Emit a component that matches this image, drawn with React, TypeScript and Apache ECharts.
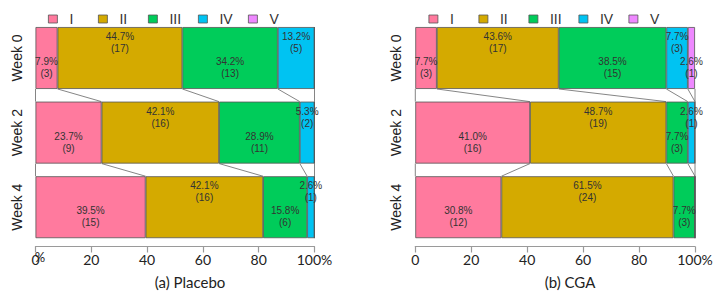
import React, { useEffect, useRef } from "react";
import * as echarts from "echarts";

const weeks = ["Week 0", "Week 2", "Week 4"];
const grades = ["I", "II", "III", "IV", "V"];
const gradeColors = ["#FF7A9E", "#D4AA00", "#00CC5A", "#00C3F2", "#EE88FF"];

// counts per grade (I..V) for each week
const placeboCounts = [
  [3, 17, 13, 5, 0],
  [9, 16, 11, 2, 0],
  [15, 16, 6, 1, 0],
];
const cgaCounts = [
  [3, 17, 15, 3, 1],
  [16, 19, 3, 1, 0],
  [12, 24, 3, 0, 0],
];

const panels = [
  { counts: placeboCounts, caption: "(a) Placebo", left: 35.5, width: 279, legendLeft: 43, captionX: 190 },
  { counts: cgaCounts, caption: "(b) CGA", left: 415.3, width: 279.7, legendLeft: 423.5, captionX: 570 },
];

const GRID_TOP = 20.7;
const GRID_H = 223.8;
const BAR_FRAC = 0.83;

function pctRows(counts: number[][]) {
  return counts.map((row) => {
    const tot = row.reduce((a, b) => a + b, 0);
    return row.map((c) => (c / tot) * 100);
  });
}

export default function App() {
  const ref = useRef<HTMLDivElement>(null);
  useEffect(() => {
    if (!ref.current) return;
    const chart = echarts.init(ref.current, undefined, { renderer: "svg" });
    const grid: any[] = [];
    const xAxis: any[] = [];
    const yAxis: any[] = [];
    const series: any[] = [];
    const legend: any[] = [];
    const graphic: any[] = [];

    panels.forEach((p, pi) => {
      const pct = pctRows(p.counts);
      grid.push({ left: p.left, width: p.width, top: GRID_TOP, height: GRID_H });
      xAxis.push({
        type: "value",
        gridIndex: pi,
        min: 0,
        max: 100,
        interval: 20,
        offset: 2,
        axisLine: { show: true, lineStyle: { color: "#9a9a9a", width: 1.2 } },
        axisTick: { show: true, length: 6, lineStyle: { color: "#9a9a9a", width: 1.2 } },
        splitLine: { show: false },
        axisLabel: {
          color: "#222",
          fontFamily: "Lato, 'DejaVu Sans', sans-serif",
          fontSize: 14,
          margin: 6,
          formatter: (v: number) => (v === 100 ? "100%" : String(v)),
        },
      });
      yAxis.push({
        type: "category",
        gridIndex: pi,
        data: weeks,
        inverse: true,
        axisLine: { show: false },
        axisTick: { show: false },
        axisLabel: {
          rotate: 90,
          margin: 12,
          color: "#222",
          fontFamily: "'Liberation Sans', Arial, sans-serif",
          fontSize: 14,
        },
      });
      grades.forEach((g, gi) => {
        series.push({
          type: "bar",
          name: g,
          xAxisIndex: pi,
          yAxisIndex: pi,
          stack: "s" + pi,
          barWidth: BAR_FRAC * 100 + "%",
          itemStyle: { color: gradeColors[gi], borderColor: "#555", borderWidth: 0.8 },
          label: {
            show: true,
            position: "inside",
            offset: [0, gi % 2 === 0 ? 9.7 : -15.5],
            color: "#333",
            fontFamily: "'Liberation Sans', Arial, sans-serif",
            fontSize: 10,
            lineHeight: 12,
            overflow: "none",
            formatter: (prm: any) => {
              const c = p.counts[prm.dataIndex][gi];
              if (!c) return "";
              return pct[prm.dataIndex][gi].toFixed(1) + "%\n(" + c + ")";
            },
          },
          emphasis: { disabled: true },
          data: pct.map((r) => r[gi]),
        });
        legend.push({
          data: [g],
          left: p.legendLeft + gi * 50,
          top: 7,
          icon: "rect",
          itemWidth: 9,
          itemHeight: 8,
          itemStyle: { borderColor: "#555", borderWidth: 0.8 },
          textStyle: {
            color: "#333",
            fontFamily: "'Liberation Sans', Arial, sans-serif",
            fontSize: 14,
            padding: [0, 0, 0, 7],
          },
          selectedMode: false,
        });
      });
      // connection lines between consecutive bars
      series.push({
        type: "custom",
        xAxisIndex: pi,
        yAxisIndex: pi,
        silent: true,
        z: 1,
        data: weeks.slice(0, -1).map((_, i) => [0, i]),
        renderItem: (params: any, api: any) => {
          const i = params.dataIndex;
          const band = api.size([0, 1])[1];
          const half = (band * BAR_FRAC) / 2;
          const yb = api.coord([0, i])[1] + half;
          const yt = api.coord([0, i + 1])[1] - half;
          const cumA = [0];
          const cumB = [0];
          pct[i].forEach((v) => cumA.push(cumA[cumA.length - 1] + v));
          pct[i + 1].forEach((v) => cumB.push(cumB[cumB.length - 1] + v));
          const children: any[] = [];
          const seen = new Set<string>();
          for (let k = 0; k < cumA.length; k++) {
            const a = Math.min(100, cumA[k]);
            const b = Math.min(100, cumB[k]);
            const key = a.toFixed(3) + "_" + b.toFixed(3);
            if (seen.has(key)) continue;
            seen.add(key);
            const x1 = api.coord([a, i])[0];
            const x2 = api.coord([b, i])[0];
            children.push({
              type: "line",
              shape: { x1, y1: yb, x2, y2: yt },
              style: { stroke: "#666", lineWidth: 0.8 },
            });
          }
          return { type: "group", children };
        },
      });
      graphic.push({
        type: "text",
        x: p.captionX,
        y: 282,
        style: {
          text: p.caption,
          fill: "#222",
          font: "15px Lato, 'DejaVu Sans', sans-serif",
          align: "center",
          verticalAlign: "middle",
        },
      });
    });
    graphic.push({
      type: "text",
      x: 40,
      y: 257,
      style: {
        text: "%",
        fill: "#222",
        font: "13px Lato, 'DejaVu Sans', sans-serif",
        align: "center",
        verticalAlign: "middle",
      },
    });

    chart.setOption({
      animation: false,
      backgroundColor: "#fff",
      grid,
      xAxis,
      yAxis,
      series,
      legend,
      graphic,
    });
    return () => chart.dispose();
  }, []);
  return <div ref={ref} style={{ width: 720, height: 297, position: "absolute", left: 0, top: 0 }} />;
}
